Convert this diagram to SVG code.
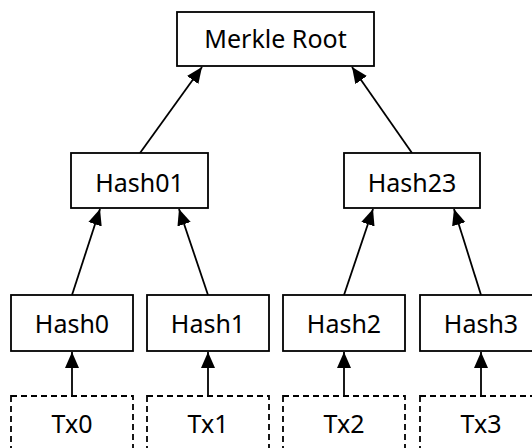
<svg xmlns="http://www.w3.org/2000/svg" width="532" height="448" viewBox="0 0 532 448">
<style>
.box{fill:#fff;stroke:#000;stroke-width:1.8}
.tx{fill:#fff;stroke:#000;stroke-width:1.8;stroke-dasharray:6 4}
.lbl{font-family:"Noto Sans","Open Sans",sans-serif;font-size:25px;fill:#000;text-anchor:middle}
.edge{stroke:#000;stroke-width:1.8;fill:none;marker-end:url(#ah)}
</style>
<defs>
<marker id="ah" markerUnits="userSpaceOnUse" markerWidth="16" markerHeight="16" viewBox="0 0 16 14" refX="16" refY="7" orient="auto">
<path d="M0,0 L16,7 L0,14 Z" fill="#000"/>
</marker>
</defs>
<g id="connectors">
<line class="edge" x1="72" y1="396" x2="72" y2="352"/>
<line class="edge" x1="208" y1="396" x2="208" y2="352"/>
<line class="edge" x1="344" y1="396" x2="344" y2="352"/>
<line class="edge" x1="481" y1="396" x2="481" y2="352"/>
<line class="edge" x1="72" y1="295" x2="100" y2="209"/>
<line class="edge" x1="208" y1="295" x2="179" y2="209"/>
<line class="edge" x1="344" y1="295" x2="373" y2="209"/>
<line class="edge" x1="481" y1="295" x2="454" y2="209"/>
<line class="edge" x1="140" y1="153" x2="202" y2="67"/>
<line class="edge" x1="412" y1="153" x2="352" y2="67"/>
</g>
<g id="merkle-root"><rect class="box" x="177" y="12" width="197" height="54"/><text class="lbl" x="275.5" y="48">Merkle Root</text></g>
<g id="hash01"><rect class="box" x="71" y="153" width="137" height="55"/><text class="lbl" x="139.5" y="192">Hash01</text></g>
<g id="hash23"><rect class="box" x="344" y="153" width="136" height="55"/><text class="lbl" x="412" y="192">Hash23</text></g>
<g id="hash0"><rect class="box" x="11" y="295" width="122" height="56"/><text class="lbl" x="72" y="333">Hash0</text></g>
<g id="hash1"><rect class="box" x="147" y="295" width="122" height="56"/><text class="lbl" x="208" y="333">Hash1</text></g>
<g id="hash2"><rect class="box" x="283" y="295" width="122" height="56"/><text class="lbl" x="344" y="333">Hash2</text></g>
<g id="hash3"><rect class="box" x="420" y="295" width="122" height="56"/><text class="lbl" x="481" y="333">Hash3</text></g>
<g id="tx0"><rect class="tx" x="11" y="396" width="122" height="56"/><text class="lbl" x="72" y="433">Tx0</text></g>
<g id="tx1"><rect class="tx" x="147" y="396" width="122" height="56"/><text class="lbl" x="208" y="433">Tx1</text></g>
<g id="tx2"><rect class="tx" x="283" y="396" width="122" height="56"/><text class="lbl" x="344" y="433">Tx2</text></g>
<g id="tx3"><rect class="tx" x="420" y="396" width="122" height="56"/><text class="lbl" x="481" y="433">Tx3</text></g>
</svg>
